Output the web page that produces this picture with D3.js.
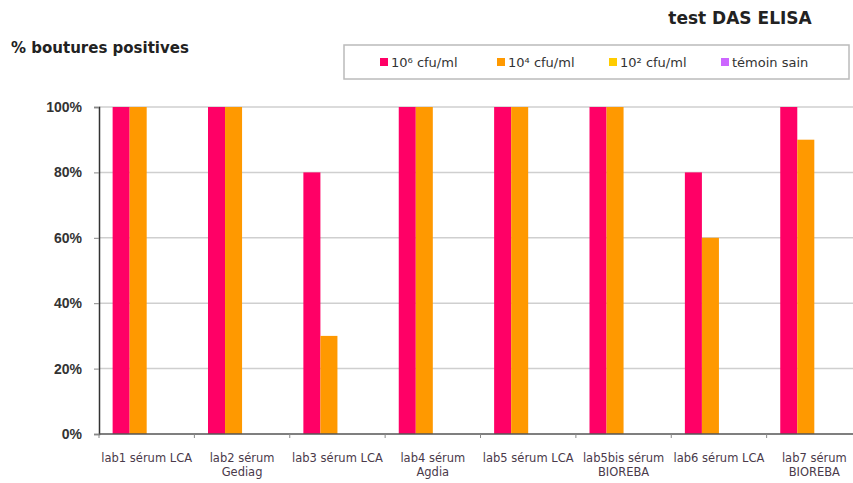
<!DOCTYPE html>
<html>
<head>
<meta charset="utf-8">
<script src="https://cdn.jsdelivr.net/npm/d3@7"></script>
<style>
  body { margin: 0; background: #fff; }
  svg { display: block; }
</style>
</head>
<body>
<svg id="chart" width="853" height="483"></svg>
<script>
// Categories (two-line labels) and series
const categories = [
  ["lab1 sérum LCA"],
  ["lab2 sérum", "Gediag"],
  ["lab3 sérum LCA"],
  ["lab4 sérum", "Agdia"],
  ["lab5 sérum LCA"],
  ["lab5bis sérum", "BIOREBA"],
  ["lab6 sérum LCA"],
  ["lab7 sérum", "BIOREBA"]
];
const seriesNames = ["10⁶ cfu/ml", "10⁴ cfu/ml", "10² cfu/ml", "témoin sain"];
const seriesColors = ["#ff0066", "#ff9900", "#ffcc00", "#cc66ff"];

// % positive cuttings per lab, one array per concentration
const cfu1e6 = [100, 100, 80, 100, 100, 100, 80, 100];
const cfu1e4 = [100, 100, 30, 100, 100, 100, 60, 90];
const cfu1e2 = [0, 0, 0, 0, 0, 0, 0, 0];
const temoin = [0, 0, 0, 0, 0, 0, 0, 0];
const seriesValues = [cfu1e6, cfu1e4, cfu1e2, temoin];

const yTicks = [0, 20, 40, 60, 80, 100];

const svg = d3.select("#chart");
const plotLeft = 99, plotRight = 862, plotTop = 107, plotBottom = 434;

const x0 = d3.scaleBand().domain(d3.range(categories.length)).range([plotLeft, plotRight]).paddingInner(0).paddingOuter(0);
const x1 = d3.scaleBand().domain(d3.range(seriesNames.length)).range([0, x0.bandwidth()]).paddingInner(0).paddingOuter(0.8);
const y = d3.scaleLinear().domain([0, 100]).range([plotBottom, plotTop]);

// Horizontal gridlines
svg.append("g")
  .selectAll("line")
  .data(yTicks.filter(d => d > 0))
  .join("line")
  .attr("x1", plotLeft).attr("x2", 853)
  .attr("y1", d => y(d)).attr("y2", d => y(d))
  .attr("stroke", "#cfcfcf").attr("stroke-width", 1.5);

// Bars
const groups = svg.append("g")
  .selectAll("g")
  .data(categories.map((c, i) => i))
  .join("g")
  .attr("transform", i => `translate(${x0(i)},0)`);

groups.selectAll("rect")
  .data(i => seriesValues.map((vals, s) => ({ s, v: vals[i] })))
  .join("rect")
  .attr("x", d => x1(d.s))
  .attr("width", x1.bandwidth())
  .attr("y", d => y(d.v))
  .attr("height", d => plotBottom - y(d.v))
  .attr("fill", d => seriesColors[d.s]);

// Y axis
const yAxis = d3.axisLeft(y).tickValues(yTicks).tickSize(5).tickFormat(d => d + "%");
const gy = svg.append("g").attr("transform", `translate(${plotLeft},0)`).call(yAxis);
gy.select(".domain").attr("stroke", "#333").attr("stroke-width", 1.5);
gy.selectAll(".tick line").attr("stroke", "#888");
gy.selectAll(".tick text")
  .attr("x", -17)
  .attr("font-family", "Liberation Sans, Arial, sans-serif")
  .attr("font-weight", "bold")
  .attr("font-size", 14)
  .attr("fill", "#333");

// X axis line and boundary ticks
svg.append("line")
  .attr("x1", plotLeft).attr("x2", 853)
  .attr("y1", plotBottom).attr("y2", plotBottom)
  .attr("stroke", "#555").attr("stroke-width", 1.5);
svg.append("g")
  .selectAll("line")
  .data(d3.range(categories.length))
  .join("line")
  .attr("x1", i => x0(i)).attr("x2", i => x0(i))
  .attr("y1", plotBottom).attr("y2", plotBottom + 4)
  .attr("stroke", "#888");

// Category labels
const labels = svg.append("g")
  .selectAll("text")
  .data(categories)
  .join("text")
  .attr("x", (c, i) => x0(i) + x0.bandwidth() / 2)
  .attr("y", 462)
  .attr("text-anchor", "middle")
  .attr("font-family", "DejaVu Sans, sans-serif")
  .attr("font-size", 11.5)
  .attr("fill", "#4a3a4a");
labels.selectAll("tspan")
  .data(c => c)
  .join("tspan")
  .attr("x", function() { return d3.select(this.parentNode).attr("x"); })
  .attr("dy", (d, j) => j === 0 ? 0 : 14)
  .text(d => d);

// Titles
svg.append("text")
  .attr("x", 740).attr("y", 24)
  .attr("text-anchor", "middle")
  .attr("font-family", "DejaVu Sans, sans-serif")
  .attr("font-weight", "bold")
  .attr("font-size", 17)
  .attr("fill", "#222")
  .text("test DAS ELISA");

svg.append("text")
  .attr("x", 11).attr("y", 53)
  .attr("font-family", "DejaVu Sans, sans-serif")
  .attr("font-weight", "bold")
  .attr("font-size", 15)
  .attr("fill", "#222")
  .text("% boutures positives");

// Legend
const legend = svg.append("g");
legend.append("rect")
  .attr("x", 344).attr("y", 45)
  .attr("width", 505).attr("height", 34)
  .attr("fill", "#fff").attr("stroke", "#bbb").attr("stroke-width", 1.5);
const legendX = [380, 497, 609, 721];
const items = legend.selectAll("g.item")
  .data(seriesNames)
  .join("g")
  .attr("class", "item")
  .attr("transform", (d, i) => `translate(${legendX[i]},62)`);
items.append("rect")
  .attr("x", 0).attr("y", -4)
  .attr("width", 8).attr("height", 8)
  .attr("fill", (d, i) => seriesColors[i]);
items.append("text")
  .attr("x", 11).attr("y", 5)
  .attr("font-family", "DejaVu Sans, sans-serif")
  .attr("font-size", 13)
  .attr("fill", "#333")
  .text(d => d);
</script>
</body>
</html>
